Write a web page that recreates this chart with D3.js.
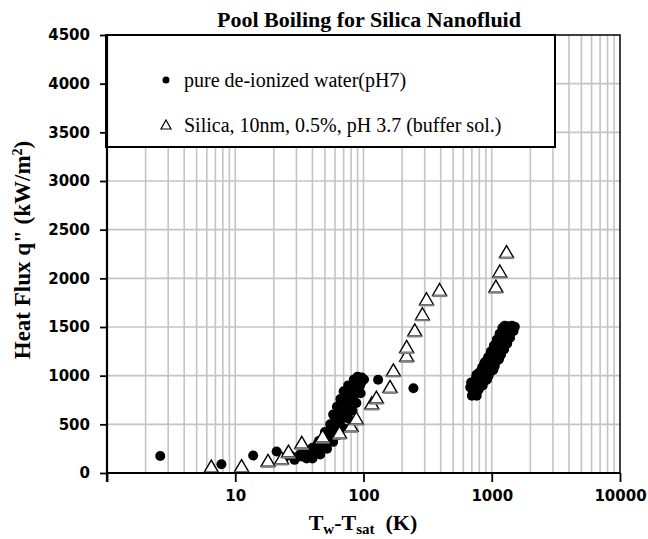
<!DOCTYPE html>
<head>
  <meta charset="UTF-8">
  <title>Pool Boiling for Silica Nanofluid</title>
  <script src="https://d3js.org/d3.v7.min.js"></script>
  <style>
    body { margin: 0; background: #fff; }
    .tick text { font-family: "DejaVu Sans", sans-serif; font-weight: bold; font-size: 15px; fill: #000; }
    .serif { font-family: "Liberation Serif", "Times New Roman", serif; fill: #000; }
  </style>
</head>
<body>
<svg id="mainplot"></svg>
<script>

// pure de-ionized water (pH7) : wall superheat (K), heat flux (kW/m2)
const waterT = [2.6, 7.8, 13.8, 21,
  24, 27, 29, 32, 35, 38, 40, 44, 47, 51, 55, 58, 61, 63, 67, 70, 74, 77, 81, 86, 90, 97, 101,
  73, 63, 55, 45, 36, 42, 50, 60, 68, 80, 88, 94, 130, 245,
  30, 33, 37, 39, 43, 46, 49, 52, 56, 59, 62, 65, 69, 72, 76, 79, 84, 92, 96, 57, 53, 48, 65, 70, 75, 83,
  45, 50, 55, 58, 62, 66, 70, 76, 84, 90,
  40, 46, 52, 58, 64, 70, 76, 82, 88, 95,
  700, 725, 765, 807, 853, 900, 949, 1002, 1057, 1116, 1178, 1221, 1290, 1337, 1435, 1513, 1259,
  763, 790, 834, 880, 930, 981, 1034, 1092, 1152, 1216, 1284, 1331, 1406,
  712, 750, 795, 840, 885, 935, 985, 1040, 1100, 1160, 1210, 1260,
  740, 780, 820, 865, 915, 965, 1020, 1075, 1135, 1195, 1250, 1310, 1380, 1460,
  680, 715, 755, 795, 840, 885, 935, 985, 1040, 1095, 1150, 1210,
  850, 895, 945, 1000, 1055, 1115, 1180, 1245, 1320, 1390, 1480,
  690, 760, 870, 975, 1080, 1200, 1300, 920, 1030, 1140, 1250, 1370];
const waterQ = [175, 90, 180, 220,
  155, 180, 135, 190, 220, 185, 260, 300, 340, 385, 445, 505, 545, 610, 650, 710, 755, 805, 855, 905, 940, 980, 960,
  650, 500, 400, 250, 150, 200, 300, 420, 560, 760, 850, 900, 958, 870,
  160, 170, 200, 230, 250, 290, 330, 360, 420, 470, 520, 580, 630, 690, 730, 780, 830, 880, 930, 380, 330, 280, 520, 600, 680, 780,
  330, 420, 500, 600, 680, 760, 840, 900, 960, 990,
  150, 190, 250, 320, 390, 460, 560, 640, 720, 820,
  794, 856, 897, 948, 999, 1051, 1102, 1164, 1215, 1266, 1328, 1390, 1441, 1492, 1513, 1503, 1513,
  794, 856, 897, 948, 999, 1051, 1102, 1164, 1215, 1266, 1328, 1390, 1441,
  850, 900, 960, 1010, 1060, 1120, 1170, 1230, 1290, 1350, 1420, 1470,
  830, 875, 925, 975, 1025, 1075, 1135, 1190, 1240, 1300, 1360, 1420, 1470, 1500,
  880, 930, 980, 1030, 1080, 1140, 1190, 1250, 1310, 1370, 1430, 1490,
  900, 950, 1000, 1050, 1100, 1160, 1215, 1270, 1330, 1390, 1460,
  930, 1010, 1120, 1220, 1320, 1420, 1510, 960, 1060, 1170, 1280, 1400];

// Silica, 10nm, 0.5%, pH 3.7 (buffer sol.)
const silicaT = [6.5, 11.2, 18, 23, 26, 33, 48, 65, 80, 88, 116, 126, 161, 171, 217, 217, 251, 288, 310, 392, 1077, 1156, 1304];
const silicaQ = [60, 65, 120, 145, 215, 305, 370, 410, 480, 555, 710, 770, 880, 1050, 1200, 1290, 1460, 1626, 1780, 1875, 1910, 2065, 2265];

const yTicks = [0, 500, 1000, 1500, 2000, 2500, 3000, 3500, 4000, 4500];
const xTicks = [1, 10, 100, 1000, 10000];

const title = "Pool Boiling for Silica  Nanofluid";
const legendLabels = ["pure de-ionized water(pH7)", "Silica, 10nm, 0.5%, pH 3.7 (buffer sol.)"];

const width = 648, height = 539;
const svg = d3.select("#mainplot").attr("width", width).attr("height", height);

const x = d3.scaleLog().domain([1, 10000]).range([107, 620]);
const y = d3.scaleLinear().domain([0, 4500]).range([473, 35]);

// gridlines
const gridX = x.ticks().filter(d => d > 1 && d < 10000);
svg.append("g").selectAll("line").data(gridX).enter().append("line")
  .attr("x1", d => x(d)).attr("x2", d => x(d))
  .attr("y1", y(0)).attr("y2", y(4500))
  .attr("stroke", "#c4c4c4").attr("stroke-width", 1.6);
svg.append("g").selectAll("line").data(yTicks.filter(d => d > 0 && d < 4500)).enter().append("line")
  .attr("x1", x(1)).attr("x2", x(10000))
  .attr("y1", d => y(d)).attr("y2", d => y(d))
  .attr("stroke", "#c4c4c4").attr("stroke-width", 1.6);

// frame (top / right)
svg.append("path")
  .attr("d", `M${x(1)},${y(4500)}H${x(10000)}V${y(0)}`)
  .attr("fill", "none").attr("stroke", "#000").attr("stroke-width", 1.5);

// legend box
const lg = svg.append("g");
lg.append("rect").attr("x", 106).attr("y", 35).attr("width", 449).attr("height", 112)
  .attr("fill", "#fff").attr("stroke", "#000").attr("stroke-width", 2);
lg.append("circle").attr("cx", 166).attr("cy", 80).attr("r", 3.5).attr("fill", "#000");
lg.append("path").attr("transform", "translate(166,125)")
  .attr("d", "M0,-5L5,4H-5Z").attr("fill", "#fff").attr("stroke", "#000").attr("stroke-width", 1.2);
lg.selectAll("text").data(legendLabels).enter().append("text")
  .attr("class", "serif")
  .attr("x", 184).attr("y", (d, i) => 87 + i * 45)
  .style("font-size", "20px")
  .text(d => d);

// water points
svg.append("g").selectAll("circle").data(waterT).enter().append("circle")
  .attr("cx", d => x(d)).attr("cy", (d, i) => y(waterQ[i]))
  .attr("r", 5).attr("fill", "#000");

// silica triangles
const tri = svg.append("g").selectAll("g").data(silicaT).enter().append("g")
  .attr("transform", (d, i) => `translate(${x(d)},${y(silicaQ[i])})`);
tri.append("path").attr("d", "M0,-7L7,5H-7Z")
  .attr("fill", "#fff").attr("stroke", "#000").attr("stroke-width", 1.4);
tri.append("line").attr("x1", -7).attr("x2", 7).attr("y1", 5.5).attr("y2", 5.5)
  .attr("stroke", "#808080").attr("stroke-width", 2.2);

// axes
const yAxis = svg.append("g").attr("transform", `translate(${x(1)},0)`)
  .call(d3.axisLeft(y).tickValues(yTicks).tickFormat(d3.format("d")).tickSize(7).tickPadding(10));
const xAxis = svg.append("g").attr("transform", `translate(0,${y(0)})`)
  .call(d3.axisBottom(x).tickValues(xTicks).tickFormat(d => d === 1 ? "" : d3.format("d")(d)).tickSize(9).tickPadding(8));
[yAxis, xAxis].forEach(a => {
  a.select(".domain").attr("stroke", "#000").attr("stroke-width", 2.2);
  a.selectAll(".tick line").attr("stroke", "#000").attr("stroke-width", 1.8);
});
xAxis.select(".domain").attr("d", `M${x(1)},0H${x(10000)}`);
yAxis.select(".domain").attr("d", `M0,${y(0) + 9}V${y(4500)}`);

// title
svg.append("text").attr("class", "serif")
  .attr("x", 369).attr("y", 27).attr("text-anchor", "middle")
  .style("font-size", "22px").style("font-weight", "bold")
  .text(title);

// x axis title
const xt = svg.append("text").attr("class", "serif")
  .attr("x", 363).attr("y", 530).attr("text-anchor", "middle")
  .style("font-size", "22px").style("font-weight", "bold");
xt.append("tspan").text("T");
xt.append("tspan").attr("dy", 4).style("font-size", "15px").text("w");
xt.append("tspan").attr("dy", -4).text("-T");
xt.append("tspan").attr("dy", 4).style("font-size", "15px").text("sat");
xt.append("tspan").attr("dy", -4).text("\u00a0\u00a0(K)");

// y axis title
const yt = svg.append("text").attr("class", "serif")
  .attr("transform", "translate(30,250) rotate(-90)").attr("text-anchor", "middle")
  .style("font-size", "23px").style("font-weight", "bold");
yt.append("tspan").text("Heat Flux q\" (kW/m");
yt.append("tspan").attr("dy", -8).style("font-size", "14px").text("2");
yt.append("tspan").attr("dy", 8).text(")");

</script>
</body>
